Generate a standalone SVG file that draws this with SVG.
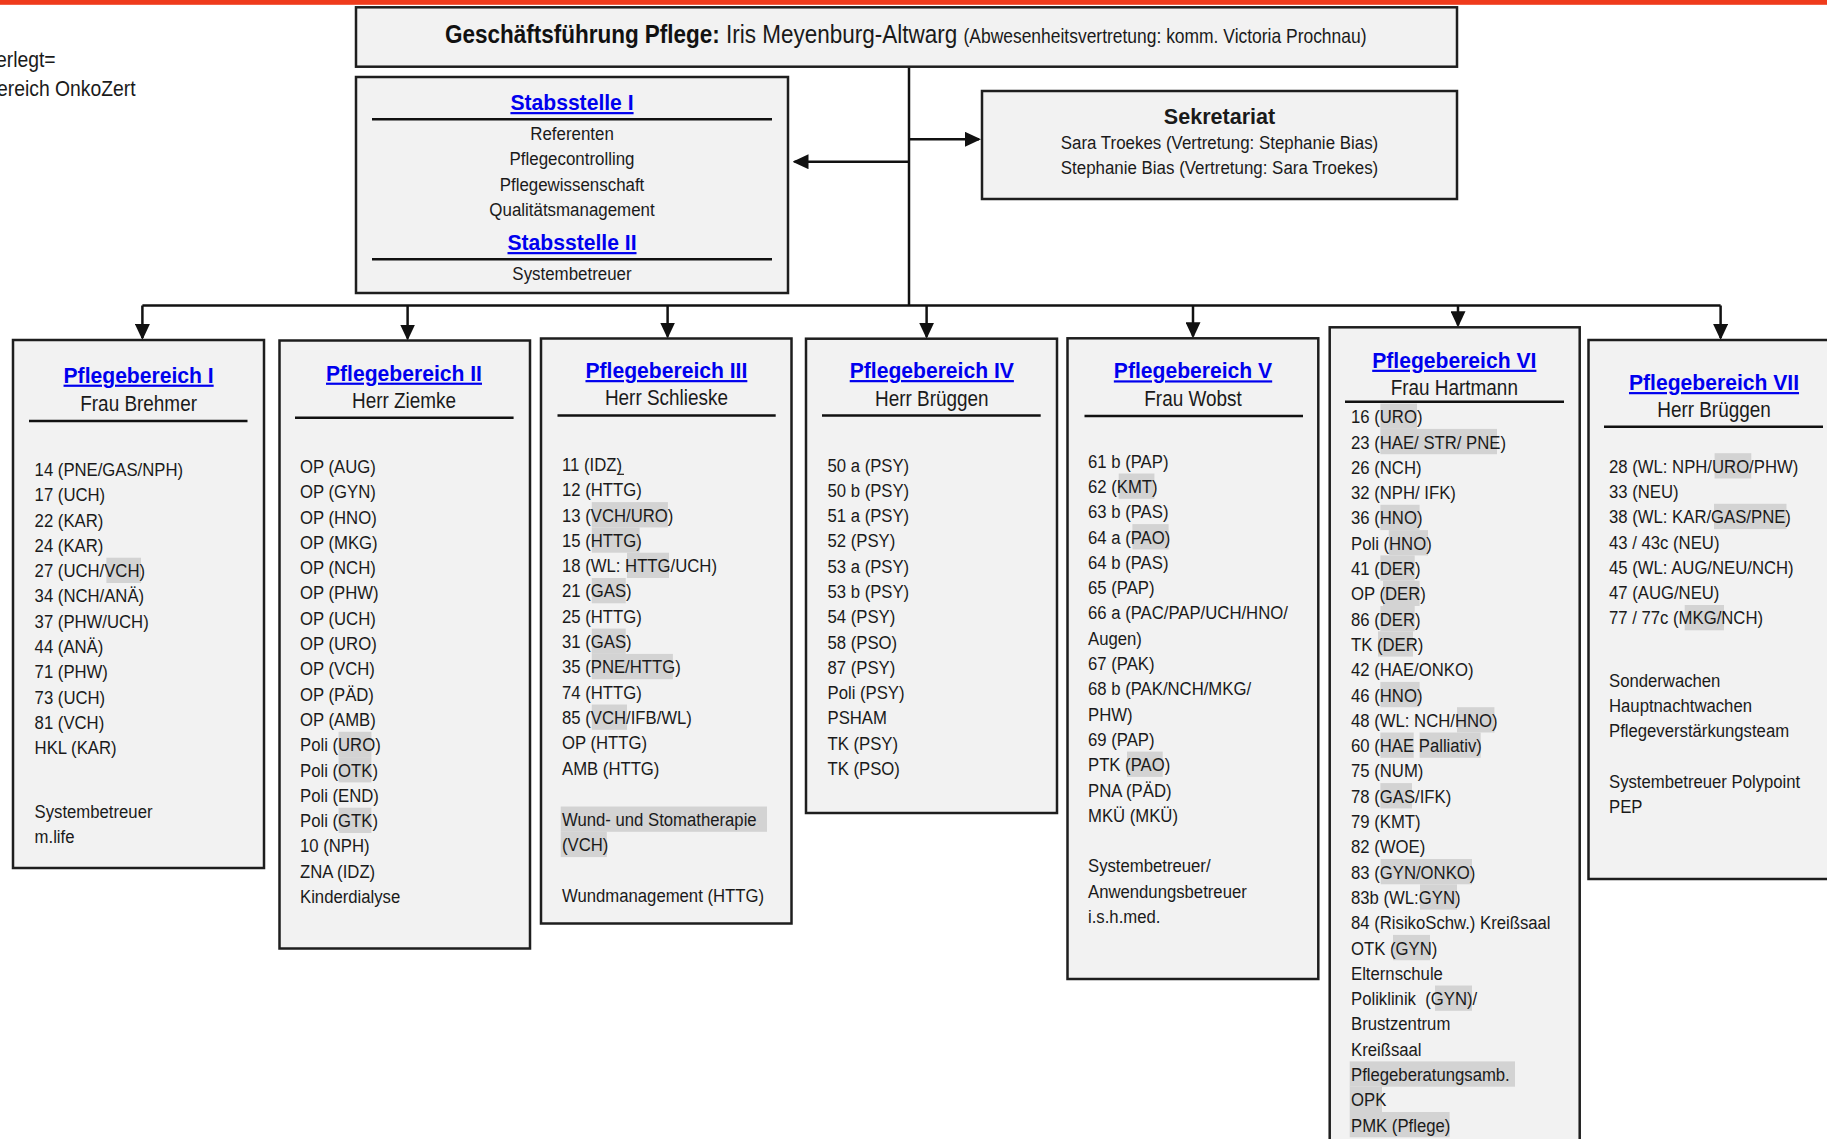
<svg xmlns="http://www.w3.org/2000/svg" width="1827" height="1139" viewBox="0 0 1827 1139">
<defs>
<style>
.box{fill:#f2f2f2;stroke:#1e1e1e;stroke-width:2.5}
.sep{stroke:#111;stroke-width:2.5}
.hl{fill:#d3d3d3}
.t{font-family:"Liberation Sans",Arial,sans-serif;fill:#1a1a1a}
.lst{font-size:19px}
.nm{font-size:21.5px}
.hd{font-size:22px;font-weight:bold;fill:#0000ee;text-decoration:underline}
.conn{stroke:#111;stroke-width:2.5;fill:none}
</style>
<marker id="ah" viewBox="0 0 16 15" markerWidth="16" markerHeight="15" refX="14" refY="7.5" orient="auto" markerUnits="userSpaceOnUse">
<path d="M0,0 L16,7.5 L0,15 Z" fill="#111"/>
</marker>
</defs>
<rect x="0" y="0" width="1827" height="1139" fill="#ffffff"/>
<rect x="0" y="0" width="1827" height="4.8" fill="#ef3b1c"/>

<g id="note">
<text class="t" font-size="21.5" transform="translate(-4,67) scale(0.9,1)">erlegt=</text>
<text class="t" font-size="21.5" transform="translate(-3,96) scale(0.9,1)">ereich OnkoZert</text>
</g>

<g id="connectors">
<line class="conn" x1="909" y1="67" x2="909" y2="305.5"/>
<line class="conn" x1="142.4" y1="305.5" x2="1720.6" y2="305.5"/>
<line class="conn" x1="909" y1="161.7" x2="794.5" y2="161.7" marker-end="url(#ah)"/>
<line class="conn" x1="910" y1="139.3" x2="979" y2="139.3" marker-end="url(#ah)"/>
<line class="conn" x1="142.4" y1="305.5" x2="142.4" y2="338" marker-end="url(#ah)"/>
<line class="conn" x1="407.6" y1="305.5" x2="407.6" y2="338.5" marker-end="url(#ah)"/>
<line class="conn" x1="667.6" y1="305.5" x2="667.6" y2="336.5" marker-end="url(#ah)"/>
<line class="conn" x1="926.6" y1="305.5" x2="926.6" y2="336.7" marker-end="url(#ah)"/>
<line class="conn" x1="1193" y1="305.5" x2="1193" y2="336.3" marker-end="url(#ah)"/>
<line class="conn" x1="1458" y1="305.5" x2="1458" y2="325.3" marker-end="url(#ah)"/>
<line class="conn" x1="1720.6" y1="305.5" x2="1720.6" y2="338" marker-end="url(#ah)"/>
</g>

<g id="gf">
<rect class="box" x="356" y="7.3" width="1101" height="59.4"/>
<text class="t" font-size="25" transform="translate(445,43.3) scale(0.9,1)"><tspan font-weight="bold" fill="#111">Geschäftsführung Pflege:</tspan> Iris Meyenburg-Altwarg <tspan font-size="19.4">(Abwesenheitsvertretung: komm. Victoria Prochnau)</tspan></text>
</g>

<g id="stab">
<rect class="box" x="356" y="77" width="432" height="216"/>
<text class="t hd" text-anchor="middle" transform="translate(572,110) scale(0.96,1)">Stabsstelle I</text>
<line class="sep" x1="372" y1="119.3" x2="772" y2="119.3"/>
<text class="t lst" text-anchor="middle" transform="translate(572,140) scale(0.89,1)"><tspan x="0" dy="0">Referenten</tspan><tspan x="0" dy="25.3">Pflegecontrolling</tspan><tspan x="0" dy="25.3">Pflegewissenschaft</tspan><tspan x="0" dy="25.3">Qualitätsmanagement</tspan></text>
<text class="t hd" text-anchor="middle" transform="translate(572,250) scale(0.96,1)">Stabsstelle II</text>
<line class="sep" x1="372" y1="259.3" x2="772" y2="259.3"/>
<text class="t lst" text-anchor="middle" transform="translate(572,279.5) scale(0.89,1)">Systembetreuer</text>
</g>

<g id="sekretariat">
<rect class="box" x="982" y="91" width="475" height="108"/>
<text class="t" font-size="22" font-weight="bold" fill="#111" text-anchor="middle" transform="translate(1219.5,124) scale(0.98,1)">Sekretariat</text>
<text class="t lst" text-anchor="middle" transform="translate(1219.5,149) scale(0.89,1)"><tspan x="0" dy="0">Sara Troekes (Vertretung: Stephanie Bias)</tspan><tspan x="0" dy="25.3">Stephanie Bias (Vertretung: Sara Troekes)</tspan></text>
</g>

<g id="pb1">
<rect class="box" x="13" y="340" width="251" height="528"/>
<text class="t hd" text-anchor="middle" transform="translate(138.6,382.6) scale(0.96,1)">Pflegebereich I</text>
<text class="t nm" text-anchor="middle" transform="translate(138.6,411) scale(0.88,1)">Frau Brehmer</text>
<line class="sep" x1="29" y1="421" x2="247.5" y2="421"/>
<rect class="hl" x="106.4" y="557.7" width="34.6" height="25.3"/>
<text class="t lst" transform="translate(34.6,476) scale(0.88,1)"><tspan x="0" dy="0">14 (PNE/GAS/NPH)</tspan><tspan x="0" dy="25.3">17 (UCH)</tspan><tspan x="0" dy="25.3">22 (KAR)</tspan><tspan x="0" dy="25.3">24 (KAR)</tspan><tspan x="0" dy="25.3">27 (UCH/VCH)</tspan><tspan x="0" dy="25.3">34 (NCH/ANÄ)</tspan><tspan x="0" dy="25.3">37 (PHW/UCH)</tspan><tspan x="0" dy="25.3">44 (ANÄ)</tspan><tspan x="0" dy="25.3">71 (PHW)</tspan><tspan x="0" dy="25.3">73 (UCH)</tspan><tspan x="0" dy="25.3">81 (VCH)</tspan><tspan x="0" dy="25.3">HKL (KAR)</tspan><tspan x="0" dy="63.7">Systembetreuer</tspan><tspan x="0" dy="25.3">m.life</tspan></text>
</g>

<g id="pb2">
<rect class="box" x="279.5" y="340.5" width="250.5" height="608"/>
<text class="t hd" text-anchor="middle" transform="translate(404,380.6) scale(0.96,1)">Pflegebereich II</text>
<text class="t nm" text-anchor="middle" transform="translate(404,408) scale(0.88,1)">Herr Ziemke</text>
<line class="sep" x1="295" y1="417.7" x2="513.6" y2="417.7"/>
<rect class="hl" x="338.6" y="731.8" width="32.8" height="25.3"/>
<rect class="hl" x="338.6" y="757.1" width="32.8" height="25.3"/>
<rect class="hl" x="338.6" y="807.7" width="32.8" height="25.3"/>
<text class="t lst" transform="translate(300,473) scale(0.88,1)"><tspan x="0" dy="0">OP (AUG)</tspan><tspan x="0" dy="25.3">OP (GYN)</tspan><tspan x="0" dy="25.3">OP (HNO)</tspan><tspan x="0" dy="25.3">OP (MKG)</tspan><tspan x="0" dy="25.3">OP (NCH)</tspan><tspan x="0" dy="25.3">OP (PHW)</tspan><tspan x="0" dy="25.3">OP (UCH)</tspan><tspan x="0" dy="25.3">OP (URO)</tspan><tspan x="0" dy="25.3">OP (VCH)</tspan><tspan x="0" dy="25.3">OP (PÄD)</tspan><tspan x="0" dy="25.3">OP (AMB)</tspan><tspan x="0" dy="25.3">Poli (URO)</tspan><tspan x="0" dy="25.3">Poli (OTK)</tspan><tspan x="0" dy="25.3">Poli (END)</tspan><tspan x="0" dy="25.3">Poli (GTK)</tspan><tspan x="0" dy="25.3">10 (NPH)</tspan><tspan x="0" dy="25.3">ZNA (IDZ)</tspan><tspan x="0" dy="25.3">Kinderdialyse</tspan></text>
</g>

<g id="pb3">
<rect class="box" x="541" y="338.5" width="250.5" height="585"/>
<text class="t hd" text-anchor="middle" transform="translate(666.4,378) scale(0.96,1)">Pflegebereich III</text>
<text class="t nm" text-anchor="middle" transform="translate(666.4,405) scale(0.88,1)">Herr Schlieske</text>
<line class="sep" x1="557.5" y1="415.4" x2="775.7" y2="415.4"/>
<rect class="hl" x="591.8" y="502.1" width="76.1" height="25.3"/>
<rect class="hl" x="591.8" y="527.4" width="47.8" height="25.3"/>
<rect class="hl" x="627" y="552.7" width="42" height="25.3"/>
<rect class="hl" x="591.8" y="578" width="33.9" height="25.3"/>
<rect class="hl" x="591.8" y="628.6" width="33.9" height="25.3"/>
<rect class="hl" x="591.8" y="653.9" width="81.1" height="25.3"/>
<rect class="hl" x="591.8" y="704.5" width="35.2" height="25.3"/>
<rect class="hl" x="560.7" y="806.5" width="206.3" height="25.3"/>
<rect class="hl" x="560.7" y="831.8" width="46.1" height="25.3"/>
<line x1="617.7" y1="474.3" x2="624" y2="474.3" stroke="#1a1a1a" stroke-width="1.2"/>
<text class="t lst" transform="translate(562,471) scale(0.88,1)"><tspan x="0" dy="0">11 (IDZ)</tspan><tspan x="0" dy="25.3">12 (HTTG)</tspan><tspan x="0" dy="25.3">13 (VCH/URO)</tspan><tspan x="0" dy="25.3">15 (HTTG)</tspan><tspan x="0" dy="25.3">18 (WL: HTTG/UCH)</tspan><tspan x="0" dy="25.3">21 (GAS)</tspan><tspan x="0" dy="25.3">25 (HTTG)</tspan><tspan x="0" dy="25.3">31 (GAS)</tspan><tspan x="0" dy="25.3">35 (PNE/HTTG)</tspan><tspan x="0" dy="25.3">74 (HTTG)</tspan><tspan x="0" dy="25.3">85 (VCH/IFB/WL)</tspan><tspan x="0" dy="25.3">OP (HTTG)</tspan><tspan x="0" dy="25.3">AMB (HTTG)</tspan><tspan x="0" dy="51.4">Wund- und Stomatherapie</tspan><tspan x="0" dy="25.3">(VCH)</tspan><tspan x="0" dy="50.7">Wundmanagement (HTTG)</tspan></text>
</g>

<g id="pb4">
<rect class="box" x="806" y="338.7" width="251" height="474.3"/>
<text class="t hd" text-anchor="middle" transform="translate(931.8,378) scale(0.96,1)">Pflegebereich IV</text>
<text class="t nm" text-anchor="middle" transform="translate(931.8,406) scale(0.88,1)">Herr Brüggen</text>
<line class="sep" x1="822" y1="415.4" x2="1040.7" y2="415.4"/>
<text class="t lst" transform="translate(827.5,471.5) scale(0.88,1)"><tspan x="0" dy="0">50 a (PSY)</tspan><tspan x="0" dy="25.3">50 b (PSY)</tspan><tspan x="0" dy="25.3">51 a (PSY)</tspan><tspan x="0" dy="25.3">52 (PSY)</tspan><tspan x="0" dy="25.3">53 a (PSY)</tspan><tspan x="0" dy="25.3">53 b (PSY)</tspan><tspan x="0" dy="25.3">54 (PSY)</tspan><tspan x="0" dy="25.3">58 (PSO)</tspan><tspan x="0" dy="25.3">87 (PSY)</tspan><tspan x="0" dy="25.3">Poli (PSY)</tspan><tspan x="0" dy="25.3">PSHAM</tspan><tspan x="0" dy="25.3">TK (PSY)</tspan><tspan x="0" dy="25.3">TK (PSO)</tspan></text>
</g>

<g id="pb5">
<rect class="box" x="1067.5" y="338.3" width="250.8" height="640.7"/>
<text class="t hd" text-anchor="middle" transform="translate(1193,378.3) scale(0.96,1)">Pflegebereich V</text>
<text class="t nm" text-anchor="middle" transform="translate(1193,406) scale(0.88,1)">Frau Wobst</text>
<line class="sep" x1="1084.5" y1="416" x2="1303" y2="416"/>
<rect class="hl" x="1118.7" y="473.5" width="35.7" height="25.3"/>
<rect class="hl" x="1132.4" y="524.1" width="36.2" height="25.3"/>
<rect class="hl" x="1127" y="751.6" width="35.7" height="25.3"/>
<text class="t lst" transform="translate(1088,467.7) scale(0.88,1)"><tspan x="0" dy="0">61 b (PAP)</tspan><tspan x="0" dy="25.3">62 (KMT)</tspan><tspan x="0" dy="25.3">63 b (PAS)</tspan><tspan x="0" dy="25.3">64 a (PAO)</tspan><tspan x="0" dy="25.3">64 b (PAS)</tspan><tspan x="0" dy="25.3">65 (PAP)</tspan><tspan x="0" dy="25.3">66 a (PAC/PAP/UCH/HNO/</tspan><tspan x="0" dy="25.3">Augen)</tspan><tspan x="0" dy="25.3">67 (PAK)</tspan><tspan x="0" dy="25.3">68 b (PAK/NCH/MKG/</tspan><tspan x="0" dy="25.3">PHW)</tspan><tspan x="0" dy="25.3">69 (PAP)</tspan><tspan x="0" dy="25.3">PTK (PAO)</tspan><tspan x="0" dy="25.3">PNA (PÄD)</tspan><tspan x="0" dy="25.3">MKÜ (MKÜ)</tspan><tspan x="0" dy="50.6">Systembetreuer/</tspan><tspan x="0" dy="25.3">Anwendungsbetreuer</tspan><tspan x="0" dy="25.3">i.s.h.med.</tspan></text>
</g>

<g id="pb6">
<rect class="box" x="1329.7" y="327.3" width="250" height="830"/>
<text class="t hd" text-anchor="middle" transform="translate(1454.3,367.7) scale(0.96,1)">Pflegebereich VI</text>
<text class="t nm" text-anchor="middle" transform="translate(1454.3,395) scale(0.88,1)">Frau Hartmann</text>
<line class="sep" x1="1345" y1="401.7" x2="1564" y2="401.7"/>
<rect class="hl" x="1380.4" y="403.6" width="36.6" height="25.3"/>
<rect class="hl" x="1380.4" y="428.9" width="116.6" height="25.3"/>
<rect class="hl" x="1380.4" y="504.8" width="39.2" height="25.3"/>
<rect class="hl" x="1388.8" y="530.1" width="39.2" height="25.3"/>
<rect class="hl" x="1380.4" y="555.4" width="34.3" height="25.3"/>
<rect class="hl" x="1383" y="580.7" width="36.6" height="25.3"/>
<rect class="hl" x="1380.4" y="606" width="34.3" height="25.3"/>
<rect class="hl" x="1378" y="631.3" width="35" height="25.3"/>
<rect class="hl" x="1380.4" y="681.9" width="39.2" height="25.3"/>
<rect class="hl" x="1457" y="707.2" width="37.4" height="25.3"/>
<rect class="hl" x="1380.4" y="732.5" width="33.3" height="25.3"/>
<rect class="hl" x="1419.6" y="732.5" width="61.1" height="25.3"/>
<rect class="hl" x="1380.4" y="783.1" width="31.6" height="25.3"/>
<rect class="hl" x="1380.7" y="859" width="91.3" height="25.3"/>
<rect class="hl" x="1420" y="884.3" width="37" height="25.3"/>
<rect class="hl" x="1393" y="934.9" width="37" height="25.3"/>
<rect class="hl" x="1435" y="985.5" width="37" height="25.3"/>
<rect class="hl" x="1349.7" y="1061.4" width="165.3" height="25.3"/>
<rect class="hl" x="1349.7" y="1086.7" width="32.3" height="25.3"/>
<rect class="hl" x="1349.7" y="1112" width="99.9" height="25.3"/>
<text class="t lst" transform="translate(1351,423.3) scale(0.88,1)"><tspan x="0" dy="0">16 (URO)</tspan><tspan x="0" dy="25.3">23 (HAE/ STR/ PNE)</tspan><tspan x="0" dy="25.3">26 (NCH)</tspan><tspan x="0" dy="25.3">32 (NPH/ IFK)</tspan><tspan x="0" dy="25.3">36 (HNO)</tspan><tspan x="0" dy="25.3">Poli (HNO)</tspan><tspan x="0" dy="25.3">41 (DER)</tspan><tspan x="0" dy="25.3">OP (DER)</tspan><tspan x="0" dy="25.3">86 (DER)</tspan><tspan x="0" dy="25.3">TK (DER)</tspan><tspan x="0" dy="25.3">42 (HAE/ONKO)</tspan><tspan x="0" dy="25.3">46 (HNO)</tspan><tspan x="0" dy="25.3">48 (WL: NCH/HNO)</tspan><tspan x="0" dy="25.3">60 (HAE Palliativ)</tspan><tspan x="0" dy="25.3">75 (NUM)</tspan><tspan x="0" dy="25.3">78 (GAS/IFK)</tspan><tspan x="0" dy="25.3">79 (KMT)</tspan><tspan x="0" dy="25.3">82 (WOE)</tspan><tspan x="0" dy="25.3">83 (GYN/ONKO)</tspan><tspan x="0" dy="25.3">83b (WL:GYN)</tspan><tspan x="0" dy="25.3">84 (RisikoSchw.) Kreißsaal</tspan><tspan x="0" dy="25.3">OTK (GYN)</tspan><tspan x="0" dy="25.3">Elternschule</tspan><tspan x="0" dy="25.3">Poliklinik&#160; (GYN)/</tspan><tspan x="0" dy="25.3">Brustzentrum</tspan><tspan x="0" dy="25.3">Kreißsaal</tspan><tspan x="0" dy="25.3">Pflegeberatungsamb.</tspan><tspan x="0" dy="25.3">OPK</tspan><tspan x="0" dy="25.3">PMK (Pflege)</tspan></text>
</g>

<g id="pb7">
<rect class="box" x="1588.5" y="340" width="260" height="539"/>
<text class="t hd" text-anchor="middle" transform="translate(1714,390) scale(0.96,1)">Pflegebereich VII</text>
<text class="t nm" text-anchor="middle" transform="translate(1714,416.7) scale(0.88,1)">Herr Brüggen</text>
<line class="sep" x1="1604" y1="426.7" x2="1823" y2="426.7"/>
<rect class="hl" x="1714.6" y="453.2" width="36.7" height="25.3"/>
<rect class="hl" x="1714" y="503.8" width="72.5" height="25.3"/>
<rect class="hl" x="1684.7" y="605" width="39.3" height="25.3"/>
<text class="t lst" transform="translate(1609,472.7) scale(0.88,1)"><tspan x="0" dy="0">28 (WL: NPH/URO/PHW)</tspan><tspan x="0" dy="25.3">33 (NEU)</tspan><tspan x="0" dy="25.3">38 (WL: KAR/GAS/PNE)</tspan><tspan x="0" dy="25.3">43 / 43c (NEU)</tspan><tspan x="0" dy="25.3">45 (WL: AUG/NEU/NCH)</tspan><tspan x="0" dy="25.3">47 (AUG/NEU)</tspan><tspan x="0" dy="25.3">77 / 77c (MKG/NCH)</tspan><tspan x="0" dy="62.2">Sonderwachen</tspan><tspan x="0" dy="25.3">Hauptnachtwachen</tspan><tspan x="0" dy="25.3">Pflegeverstärkungsteam</tspan><tspan x="0" dy="50.7">Systembetreuer Polypoint</tspan><tspan x="0" dy="25.3">PEP</tspan></text>
</g>
</svg>
